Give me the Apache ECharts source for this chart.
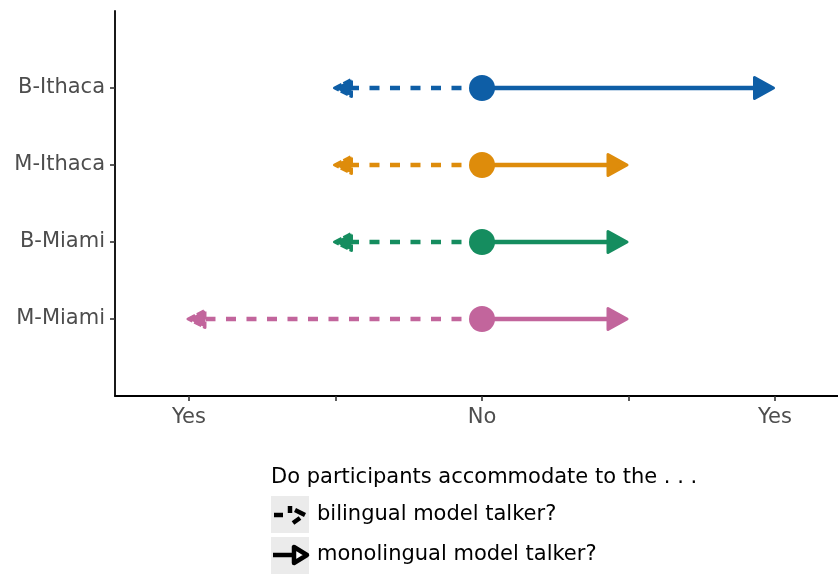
<!DOCTYPE html>
<html>
<head>
<meta charset="utf-8">
<script src="https://cdn.jsdelivr.net/npm/echarts/dist/echarts.min.js"></script>
<style>
html,body{margin:0;padding:0;background:#fff;}
#chart{width:838px;height:574px;}
</style>
</head>
<body>
<div id="chart"></div>
<script>
// ---- data ----
const groups = ['M-Miami', 'B-Miami', 'M-Ithaca', 'B-Ithaca']; // bottom to top
const groupPos = [1, 2, 3, 4];
const startValues = [0, 0, 0, 0];
const monolingualValues = [1, 1, 1, 2];
const bilingualValues = [-2, -1, -1, -1];
const groupColors = ['#C2659C', '#158D5F', '#DE8C0B', '#0E5EA6'];
const xTickValues = [-2, -1, 0, 1, 2];
const xTickLabels = ['Yes', '', 'No', '', 'Yes'];
const legendTitle = 'Do participants accommodate to the . . .';
const legendLabels = ['bilingual model talker?', 'monolingual model talker?'];

const FONT = '"DejaVu Sans", "Liberation Sans", Arial, sans-serif';

const seriesData = groups.map((g, i) => [groupPos[i], startValues[i], monolingualValues[i], bilingualValues[i], i]);

function arrowHead(tip, dir, len, half) {
  return [[tip[0], tip[1]], [tip[0] - dir * len, tip[1] - half], [tip[0] - dir * len, tip[1] + half]];
}

function renderItem(params, api) {
  const y = api.value(0);
  const s = api.coord([api.value(1), y]);
  const m = api.coord([api.value(2), y]);
  const b = api.coord([api.value(3), y]);
  const color = groupColors[api.value(4)];
  const LW = 4.6;
  const children = [];
  // dashed (bilingual) line
  const bDir = b[0] < s[0] ? -1 : 1;
  children.push({
    type: 'line',
    shape: { x1: s[0], y1: s[1], x2: b[0] - bDir * 12, y2: b[1] },
    style: { stroke: color, lineWidth: LW, lineDash: [10, 10.5], lineCap: 'butt' }
  });
  children.push({
    type: 'polygon',
    shape: { points: arrowHead([b[0] + bDir * 1, b[1]], bDir, 17, 8.5) },
    style: { fill: color, stroke: color, lineWidth: 3, lineJoin: 'round', lineDash: [8, 2] }
  });
  // solid (monolingual) line
  const mDir = m[0] < s[0] ? -1 : 1;
  children.push({
    type: 'line',
    shape: { x1: s[0], y1: s[1], x2: m[0] - mDir * 15, y2: m[1] },
    style: { stroke: color, lineWidth: LW, lineCap: 'butt' }
  });
  children.push({
    type: 'polygon',
    shape: { points: arrowHead([m[0] - mDir * 1.5, m[1]], mDir, 19, 10.5) },
    style: { fill: color, stroke: color, lineWidth: 3, lineJoin: 'round' }
  });
  // starting point
  children.push({
    type: 'circle',
    shape: { cx: s[0], cy: s[1], r: 13 },
    style: { fill: color }
  });
  return { type: 'group', children: children };
}

const chart = echarts.init(document.getElementById('chart'), null, { renderer: 'canvas' });

const option = {
  backgroundColor: '#ffffff',
  animation: false,
  grid: { left: 115, right: 0, top: 11, bottom: 178, containLabel: false },
  xAxis: {
    type: 'value',
    min: -2.505,
    max: 2.43,
    axisLine: { show: true, onZero: false, lineStyle: { color: '#000', width: 1.8 } },
    axisTick: { show: true, customValues: xTickValues, length: 5, lineStyle: { color: '#333', width: 1.6 } },
    axisLabel: {
      customValues: xTickValues,
      formatter: v => { const i = xTickValues.indexOf(Math.round(v)); return i >= 0 ? xTickLabels[i] : ''; },
      color: '#4d4d4d', fontSize: 21, fontFamily: FONT, margin: 11
    },
    splitLine: { show: false }
  },
  yAxis: {
    type: 'value',
    min: 0,
    max: 5,
    axisLine: { show: true, onZero: false, lineStyle: { color: '#000', width: 1.8 } },
    axisTick: { show: true, customValues: groupPos, length: 5, lineStyle: { color: '#333', width: 1.6 } },
    axisLabel: {
      customValues: groupPos,
      formatter: v => { const i = groupPos.indexOf(Math.round(v)); return i >= 0 ? groups[i] : ''; },
      color: '#4d4d4d', fontSize: 21, fontFamily: FONT, margin: 10
    },
    splitLine: { show: false }
  },
  series: [{
    type: 'custom',
    renderItem: renderItem,
    data: seriesData,
    encode: { x: [1, 2, 3], y: 0 },
    clip: false
  }],
  graphic: [
    { type: 'text', left: 271, top: 467, style: { text: legendTitle, font: '21px ' + FONT, fill: '#000' } },
    { type: 'rect', shape: { x: 271, y: 496, width: 38, height: 37 }, style: { fill: '#ebebeb' } },
    { type: 'rect', shape: { x: 271, y: 537, width: 38, height: 37 }, style: { fill: '#ebebeb' } },
    // dashed legend key
    { type: 'line', shape: { x1: 274, y1: 515, x2: 283, y2: 515 }, style: { stroke: '#000', lineWidth: 4.5 } },
    { type: 'line', shape: { x1: 290, y1: 506, x2: 290, y2: 513 }, style: { stroke: '#000', lineWidth: 4.5 } },
    { type: 'line', shape: { x1: 295, y1: 510, x2: 305, y2: 515 }, style: { stroke: '#000', lineWidth: 4.5 } },
    { type: 'line', shape: { x1: 300, y1: 518, x2: 293, y2: 523 }, style: { stroke: '#000', lineWidth: 4.5 } },
    { type: 'text', left: 317, top: 504, style: { text: legendLabels[0], font: '21px ' + FONT, fill: '#000' } },
    // solid legend key
    { type: 'line', shape: { x1: 273, y1: 555, x2: 294, y2: 555 }, style: { stroke: '#000', lineWidth: 4.5 } },
    { type: 'polygon', shape: { points: [[307, 555], [294, 547], [294, 563]] }, style: { fill: '#fff', stroke: '#000', lineWidth: 4.5, lineJoin: 'round' } },
    { type: 'text', left: 317, top: 544, style: { text: legendLabels[1], font: '21px ' + FONT, fill: '#000' } }
  ]
};
chart.setOption(option);
</script>
</body>
</html>
